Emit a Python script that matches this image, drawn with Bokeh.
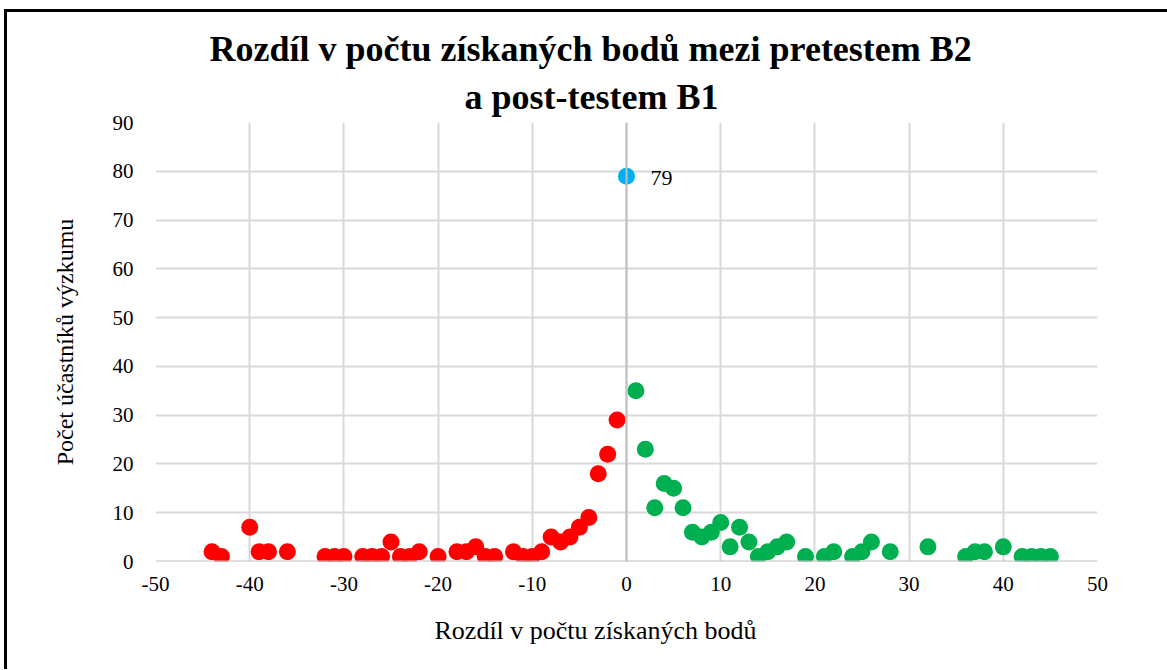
from bokeh.plotting import figure
from bokeh.models import Range1d, FixedTicker, Span, Title, ColumnDataSource
from bokeh.core.properties import value
from bokeh.embed import file_html
from bokeh.resources import INLINE

# Data
neg_x = [-44, -43, -40, -39, -38, -36, -32, -31, -30, -28, -27, -26, -25, -24, -23, -22,
         -20, -18, -17, -16, -15, -14, -12, -11, -10, -9, -8, -7, -6, -5, -4, -3, -2, -1]
neg_y = [2, 1, 7, 2, 2, 2, 1, 1, 1, 1, 1, 1, 4, 1, 1, 2,
         1, 2, 2, 3, 1, 1, 2, 1, 1, 2, 5, 4, 5, 7, 9, 18, 22, 29]
zero_x = [0]
zero_y = [79]
pos_x = [1, 2, 3, 4, 5, 6, 7, 8, 9, 10, 11, 12, 13, 14, 15, 16, 17, 19, 21, 22, 24, 25,
         26, 28, 32, 36, 37, 38, 40, 42, 43, 44, 45]
pos_y = [35, 23, 11, 16, 15, 11, 6, 5, 6, 8, 3, 7, 4, 1, 2, 3, 4, 1, 1, 2, 1, 2,
         4, 2, 3, 1, 2, 2, 3, 1, 1, 1, 1]
x_ticks = list(range(-50, 51, 10))
y_ticks = list(range(0, 91, 10))

title_1 = "Rozdíl v počtu získaných  bodů mezi pretestem B2"
title_2 = "a post-testem B1"
x_label = "Rozdíl v počtu získaných  bodů"
y_label = "Počet účastníků výzkumu"

FONT = "Liberation Serif"

p = figure(width=1165, height=660, output_backend="svg", toolbar_location=None,
           x_range=Range1d(-50, 50), y_range=Range1d(0, 90),
           min_border_left=148, min_border_right=75, min_border_top=110, min_border_bottom=111,
           styles={"border-top": "3px solid black", "border-left": "3px solid black",
                   "margin-left": "4px", "margin-top": "9px"})
p.outline_line_color = None
p.background_fill_color = "white"
p.border_fill_color = "white"

p.add_layout(Title(text=title_2, align="left", offset=309, text_font=FONT, text_font_size="36px",
                   text_font_style="bold", text_color="black", standoff=12), "above")
p.add_layout(Title(text=title_1, align="left", offset=54, text_font=FONT, text_font_size="36px",
                   text_font_style="bold", text_color="black", standoff=0), "above")

p.xaxis.ticker = FixedTicker(ticks=x_ticks)
p.yaxis.ticker = FixedTicker(ticks=y_ticks)
p.xaxis.major_label_overrides = {t: str(t) for t in x_ticks}
p.yaxis.major_label_overrides = {t: str(t) for t in y_ticks}
for ax in (p.xaxis, p.yaxis):
    ax.axis_line_color = None
    ax.major_tick_line_color = None
    ax.minor_tick_line_color = None
    ax.major_label_text_font = FONT
    ax.major_label_text_font_size = "21px"
    ax.major_label_text_color = "black"
    ax.axis_label_text_font = FONT
    ax.axis_label_text_font_size = "24px"
    ax.axis_label_text_font_style = "normal"
    ax.axis_label_text_color = "black"
p.yaxis.axis_label = y_label
p.xaxis.major_label_standoff = 9
p.yaxis.major_label_standoff = 16
p.yaxis.axis_label_standoff = 32

p.add_layout(Title(text=x_label, align="left", offset=279, text_font=FONT, text_font_size="26px",
                   text_font_style="normal", text_color="black", standoff=40), "below")

p.xgrid.grid_line_color = "#d9d9d9"
p.ygrid.grid_line_color = "#d9d9d9"
p.xgrid.grid_line_width = 2
p.ygrid.grid_line_width = 2

p.add_layout(Span(location=0, dimension="height", line_color="#bfbfbf", line_width=2))
p.add_layout(Span(location=0, dimension="width", line_color="#bfbfbf", line_width=2))

p.scatter(neg_x, neg_y, size=17, color="#FF0000", line_color=None)
p.scatter(pos_x, pos_y, size=17, color="#00B050", line_color=None)
p.scatter(zero_x, zero_y, size=17, color="#00B0F0", line_color=None)

lab = ColumnDataSource(dict(x=zero_x, y=zero_y, t=[str(v) for v in zero_y]))
p.text(x="x", y="y", text="t", source=lab, x_offset=24, y_offset=2,
       text_baseline="middle", text_align="left",
       text_font=value(FONT), text_font_size="22px", text_color="black")

open("out.html", "w").write(file_html(p, INLINE))
